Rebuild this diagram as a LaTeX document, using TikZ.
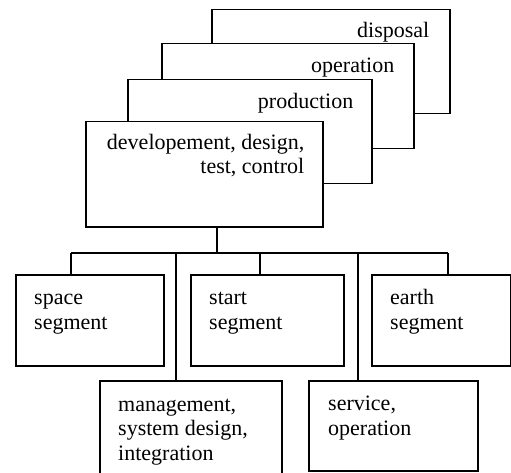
\documentclass[tikz,border=0pt]{standalone}
\usepackage{fontspec}
\setmainfont{Liberation Serif}
\begin{document}
\begin{tikzpicture}[x=1pt,y=-1pt,
  box/.style={draw, fill=white, line width=1.5pt, inner sep=0pt, anchor=north west},
  lab/.style={inner sep=0pt, font=\fontsize{22}{24.5}\selectfont},
  labr/.style={lab, align=right, anchor=base east},
  labl/.style={lab, align=left, anchor=base west},
  wire/.style={line width=1.5pt}]
\useasboundingbox (0,0) rectangle (511,473);
\clip (0,0) rectangle (511,473);
% stacked phase boxes
\node[box, minimum width=238pt, minimum height=104pt] (disp) at (211,9) {};
\node[labr] (tdisp) at ([xshift=-21pt,yshift=-29pt]disp.north east) {disposal};
\node[box, minimum width=252pt, minimum height=105pt] (oper) at (161,43) {};
\node[labr] (toper) at ([xshift=-20pt,yshift=-29.5pt]oper.north east) {operation};
\node[box, minimum width=244pt, minimum height=104pt] (prod) at (127,79) {};
\node[labr] (tprod) at ([xshift=-19pt,yshift=-30pt]prod.north east) {production};
\node[box, minimum width=237pt, minimum height=105pt] (dev) at (85,121) {};
\node[labr] (tdev) at ([xshift=-19pt,yshift=-53pt]dev.north east) {developement, design,\\test, control};
% segment boxes
\node[box, minimum width=148pt, minimum height=91pt] (space) at (15,274) {};
\node[labl] (tspace) at ([xshift=19pt,yshift=-55pt]space.north west) {space\\segment};
\node[box, minimum width=153pt, minimum height=91pt] (start) at (190,274) {};
\node[labl] (tstart) at ([xshift=19pt,yshift=-55pt]start.north west) {start\\segment};
\node[box, minimum width=139pt, minimum height=91pt] (earth) at (371,274) {};
\node[labl] (tearth) at ([xshift=19pt,yshift=-55pt]earth.north west) {earth\\segment};
\node[box, minimum width=182pt, minimum height=110pt] (mgmt) at (99,380) {};
\node[labl] (tmgmt) at ([xshift=19pt,yshift=-80pt]mgmt.north west) {management,\\system design,\\integration};
\node[box, minimum width=169pt, minimum height=90pt] (serv) at (308,380) {};
\node[labl] (tserv) at ([xshift=20pt,yshift=-55pt]serv.north west) {service,\\operation};
% tree connectors
\coordinate (bus) at (217,253);
\coordinate (busl) at (71,253);
\coordinate (busr) at (448,253);
\draw[wire] (dev.south -| bus) -- (bus);
\draw[wire] (busl) -- (busr);
\draw[wire] (busl) -- (space.north -| busl);
\draw[wire] (260,253) -- (start.north -| 260,0);
\draw[wire] (busr) -- (earth.north -| busr);
\draw[wire] (176,253) -- (mgmt.north -| 176,0);
\draw[wire] (358,253) -- (serv.north -| 358,0);
\end{tikzpicture}
\end{document}
